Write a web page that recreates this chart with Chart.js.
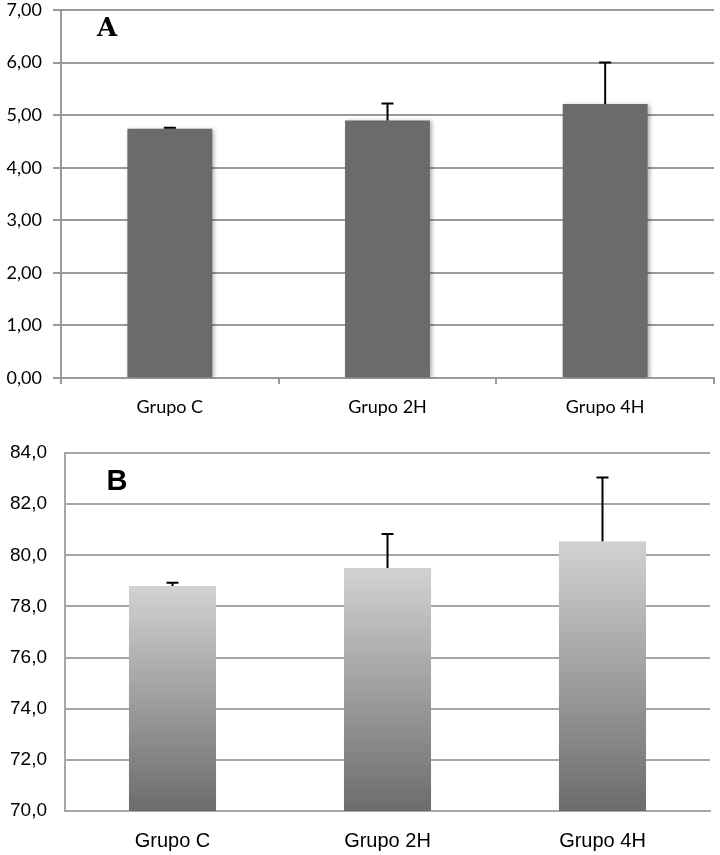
<!DOCTYPE html>
<html>
<head>
<meta charset="utf-8">
<script src="https://cdn.jsdelivr.net/npm/chart.js@4"></script>
<style>
  body { margin: 0; background: #fff; }
  .box { position: absolute; left: 0; width: 720px; height: 425px; }
</style>
</head>
<body>
<div class="box" style="top:0"><canvas id="chartA" width="720" height="425"></canvas></div>
<div class="box" style="top:430px"><canvas id="chartB" width="720" height="425"></canvas></div>
<script>
const groups = ['Grupo C', 'Grupo 2H', 'Grupo 4H'];

// panel A
const meanA = [4.74, 4.90, 5.21];
const errA = [0.02, 0.32, 0.79];

// panel B
const meanB = [78.8, 79.5, 80.55];
const errB = [0.13, 1.33, 2.49];

// draws only the upper whisker, like the Excel original
const errorBars = {
  id: 'errorBars',
  afterDatasetsDraw(chart, args, opts) {
    const ctx = chart.ctx;
    const y = chart.scales.y;
    const meta = chart.getDatasetMeta(0);
    const means = chart.data.datasets[0].data;
    ctx.save();
    ctx.strokeStyle = '#000';
    ctx.lineWidth = 2;
    meta.data.forEach((bar, i) => {
      const top = y.getPixelForValue(means[i] + opts.err[i]);
      ctx.beginPath();
      ctx.moveTo(bar.x, bar.y);
      ctx.lineTo(bar.x, top);
      ctx.moveTo(bar.x - 6, top);
      ctx.lineTo(bar.x + 6, top);
      ctx.stroke();
    });
    ctx.restore();
  }
};

const panelLetter = {
  id: 'panelLetter',
  afterDraw(chart, args, opts) {
    const ctx = chart.ctx;
    const a = chart.chartArea;
    ctx.save();
    ctx.font = opts.font;
    ctx.fillStyle = '#000';
    ctx.textAlign = 'center';
    ctx.textBaseline = 'middle';
    ctx.fillText(opts.text, a.left + opts.dx, a.top + opts.dy);
    ctx.restore();
  }
};

const barShadow = {
  id: 'barShadow',
  beforeDatasetDraw(chart) {
    const ctx = chart.ctx;
    ctx.save();
    ctx.shadowColor = 'rgba(0,0,0,0.3)';
    ctx.shadowBlur = 4;
    ctx.shadowOffsetX = 2;
    ctx.shadowOffsetY = 1;
  },
  afterDatasetDraw(chart) {
    chart.ctx.restore();
  }
};

// fixed y axis width, and no extra room for the half label at the ends
const fitY = w => s => { s.width = w; s.paddingTop = 0; s.paddingBottom = 0; };

new Chart(document.getElementById('chartA'), {
  type: 'bar',
  data: {
    labels: groups,
    datasets: [{
      data: meanA,
      backgroundColor: '#6b6b6b',
      borderWidth: 0,
      categoryPercentage: 1,
      barPercentage: 0.39
    }]
  },
  options: {
    responsive: false,
    animation: false,
    layout: { padding: { top: 10, right: 6, left: 0, bottom: 0 } },
    plugins: {
      legend: { display: false },
      tooltip: { enabled: false },
      errorBars: { err: errA },
      panelLetter: { text: 'A', font: 'bold 26px "DejaVu Serif"', dx: 46, dy: 19 }
    },
    scales: {
      x: {
        afterFit(s) { s.height = 47; },
        grid: { drawOnChartArea: false, color: '#9a9a9a', lineWidth: 2, tickLength: 6 },
        border: { color: '#9a9a9a', width: 2 },
        ticks: { color: '#000', padding: 12, font: { family: 'Lato', size: 18 } }
      },
      y: {
        min: 0,
        max: 7,
        afterFit: fitY(61),
        grid: { color: '#9a9a9a', lineWidth: 2, tickLength: 8 },
        border: { color: '#9a9a9a', width: 2 },
        ticks: {
          stepSize: 1,
          color: '#000',
          padding: 11,
          font: { family: 'Lato', size: 18 },
          callback: v => v.toFixed(2).replace('.', ',')
        }
      }
    }
  },
  plugins: [barShadow, errorBars, panelLetter]
});

new Chart(document.getElementById('chartB'), {
  type: 'bar',
  data: {
    labels: groups,
    datasets: [{
      data: meanB,
      backgroundColor(c) {
        const chart = c.chart;
        const y = chart.scales.y;
        if (!y || !chart.chartArea) return '#999';
        const g = chart.ctx.createLinearGradient(0, y.getPixelForValue(c.raw), 0, y.getPixelForValue(70));
        g.addColorStop(0, '#d2d2d2');
        g.addColorStop(1, '#6c6c6c');
        return g;
      },
      borderWidth: 0,
      categoryPercentage: 1,
      barPercentage: 0.405
    }]
  },
  options: {
    responsive: false,
    animation: false,
    layout: { padding: { top: 23, right: 10, left: 0, bottom: 0 } },
    plugins: {
      legend: { display: false },
      tooltip: { enabled: false },
      errorBars: { err: errB },
      panelLetter: { text: 'B', font: 'bold 29px "Liberation Sans"', dx: 52, dy: 29 }
    },
    scales: {
      x: {
        afterFit(s) { s.height = 44; },
        grid: { display: false },
        border: { color: '#a6a6a6', width: 2 },
        ticks: { color: '#000', padding: 10, font: { family: 'Liberation Sans', size: 20 } }
      },
      y: {
        min: 70,
        max: 84,
        afterFit: fitY(65),
        grid: { color: '#a6a6a6', lineWidth: 2, drawTicks: false },
        border: { color: '#a6a6a6', width: 2 },
        ticks: {
          stepSize: 2,
          color: '#000',
          padding: 18,
          font: { family: 'Liberation Sans', size: 19 },
          callback: v => v.toFixed(1).replace('.', ',')
        }
      }
    }
  },
  plugins: [errorBars, panelLetter]
});
</script>
</body>
</html>
